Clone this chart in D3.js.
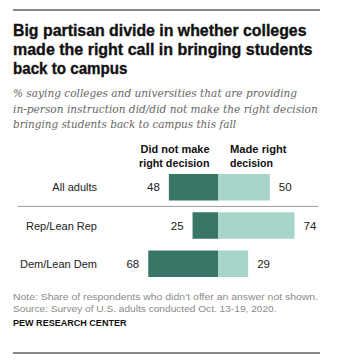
<!DOCTYPE html>
<html><head><meta charset="utf-8">
<script src="https://cdn.jsdelivr.net/npm/d3@7"></script>
<style>body{margin:0;background:#fff}svg{display:block}</style>
</head><body>
<script>
const categories = ["All adults", "Rep/Lean Rep", "Dem/Lean Dem"];
const didNotMake = [48, 25, 68];
const madeRight = [50, 74, 29];
const seriesNames = [["Did not make", "right decision"], ["Made right", "decision"]];
const titleLines = ["Big partisan divide in whether colleges", "made the right call in bringing students", "back to campus"];
const subtitleLines = ["% saying colleges and universities that are providing", "in-person instruction did/did not make the right decision", "bringing students back to campus this fall"];
const noteLines = ["Note: Share of respondents who didn\u2019t offer an answer not shown.", "Source: Survey of U.S. adults conducted Oct. 13-19, 2020."];
const sourceLabel = "PEW RESEARCH CENTER";

const W = 341, H = 363;
const svg = d3.select("body").append("svg").attr("width", W).attr("height", H);

function fit(sel, w) {
  sel.each(function(){
    const len = this.getComputedTextLength();
    if (Math.abs(len - w) > 0.5) d3.select(this).attr("textLength", w).attr("lengthAdjust", "spacingAndGlyphs");
  });
}
function fitSize(sel, w) {
  sel.each(function(){
    const s = d3.select(this);
    const fs = +s.attr("font-size");
    const len = this.getComputedTextLength();
    s.attr("font-size", (fs * w / len).toFixed(2));
  });
}

// rules
svg.append("line").attr("x1", 13).attr("x2", 320).attr("y1", 10).attr("y2", 10).attr("stroke", "#111").attr("stroke-width", 1);
svg.append("line").attr("x1", 13).attr("x2", 320).attr("y1", 353).attr("y2", 353).attr("stroke", "#111").attr("stroke-width", 1);

// title
const titleW = [293.5, 299.5, 114.5];
const titleY = [35.5, 54.5, 73.5];
titleLines.forEach((t, i) => {
  svg.append("text").attr("x", 13).attr("y", titleY[i]).text(t)
    .attr("font-family", "'Liberation Sans', Arial, sans-serif").attr("font-weight", "bold")
    .attr("font-size", 16.5).attr("fill", "#111").attr("stroke", "#111").attr("stroke-width", 0.35)
    .call(fit, titleW[i]);
});

// subtitle
const subW = [284.5, 305, 223.5];
const subY = [97.3, 112.8, 128.4];
subtitleLines.forEach((t, i) => {
  svg.append("text").attr("x", 13).attr("y", subY[i]).text(t)
    .attr("font-family", "'DejaVu Serif', Georgia, serif").attr("font-style", "italic")
    .attr("font-size", 11).attr("fill", "#666").call(fitSize, subW[i]);
});

const center = 218.3;
const xLeft = d3.scaleLinear().domain([0, 100]).range([center, center - 103]);
const xRight = d3.scaleLinear().domain([0, 100]).range([center, center + 103]);
const y = d3.scaleBand().domain(categories).range([174, 277]).paddingInner(0.307);

// headers
const hdrFont = "'Liberation Sans', Arial, sans-serif";
const h1 = [69, 70.5], h2 = [56.5, 43];
[153.3, 167.3].forEach((yy, i) => {
  svg.append("text").attr("x", 209.5).attr("y", yy).attr("text-anchor", "end").text(seriesNames[0][i])
    .attr("font-family", hdrFont).attr("font-weight", "bold").attr("font-size", 11.5).attr("fill", "#111").call(fit, h1[i]);
  svg.append("text").attr("x", 230).attr("y", yy).text(seriesNames[1][i])
    .attr("font-family", hdrFont).attr("font-weight", "bold").attr("font-size", 11.5).attr("fill", "#111").call(fit, h2[i]);
});

const data = categories.map((c, i) => ({c, a: didNotMake[i], b: madeRight[i]}));
const g = svg.append("g");

g.selectAll("rect.a").data(data).join("rect").attr("class", "a")
  .attr("x", d => xLeft(d.a)).attr("y", d => y(d.c)).attr("width", d => xLeft(0) - xLeft(d.a)).attr("height", y.bandwidth())
  .attr("fill", "#387767");
g.selectAll("rect.b").data(data).join("rect").attr("class", "b")
  .attr("x", xRight(0)).attr("y", d => y(d.c)).attr("width", d => xRight(d.b) - xRight(0)).attr("height", y.bandwidth())
  .attr("fill", "#a7d5c9");

const lblFont = "'Liberation Sans', Arial, sans-serif";
g.selectAll("text.cat").data(data).join("text").attr("class", "cat")
  .attr("x", 97).attr("y", d => y(d.c) + y.bandwidth() / 2 + 4).attr("text-anchor", "end")
  .attr("font-family", lblFont).attr("font-size", 11).attr("fill", "#222").text(d => d.c);
g.selectAll("text.va").data(data).join("text").attr("class", "va")
  .attr("x", d => xLeft(d.a) - 9).attr("y", d => y(d.c) + y.bandwidth() / 2 + 4).attr("text-anchor", "end")
  .attr("font-family", lblFont).attr("font-size", 11.5).attr("fill", "#222").text(d => d.a);
g.selectAll("text.vb").data(data).join("text").attr("class", "vb")
  .attr("x", d => xRight(d.b) + 9).attr("y", d => y(d.c) + y.bandwidth() / 2 + 4)
  .attr("font-family", lblFont).attr("font-size", 11.5).attr("fill", "#222").text(d => d.b);

// separator
const sepY = (y(categories[0]) + y.bandwidth() + y(categories[1])) / 2;
svg.append("line").attr("x1", 18).attr("x2", 318).attr("y1", sepY).attr("y2", sepY).attr("stroke", "#999").attr("stroke-width", 1);

// notes
const noteW = [305, 263.5];
[300, 312].forEach((yy, i) => {
  svg.append("text").attr("x", 13).attr("y", yy).text(noteLines[i])
    .attr("font-family", "'Liberation Sans', Arial, sans-serif").attr("font-size", 9.5).attr("fill", "#8a8a8a").call(fit, noteW[i]);
});
svg.append("text").attr("x", 13).attr("y", 325.5).text(sourceLabel)
  .attr("font-family", "'Liberation Sans', Arial, sans-serif").attr("font-weight", "bold").attr("font-size", 9.5).attr("fill", "#111").call(fit, 113.5);
</script>
</body></html>
